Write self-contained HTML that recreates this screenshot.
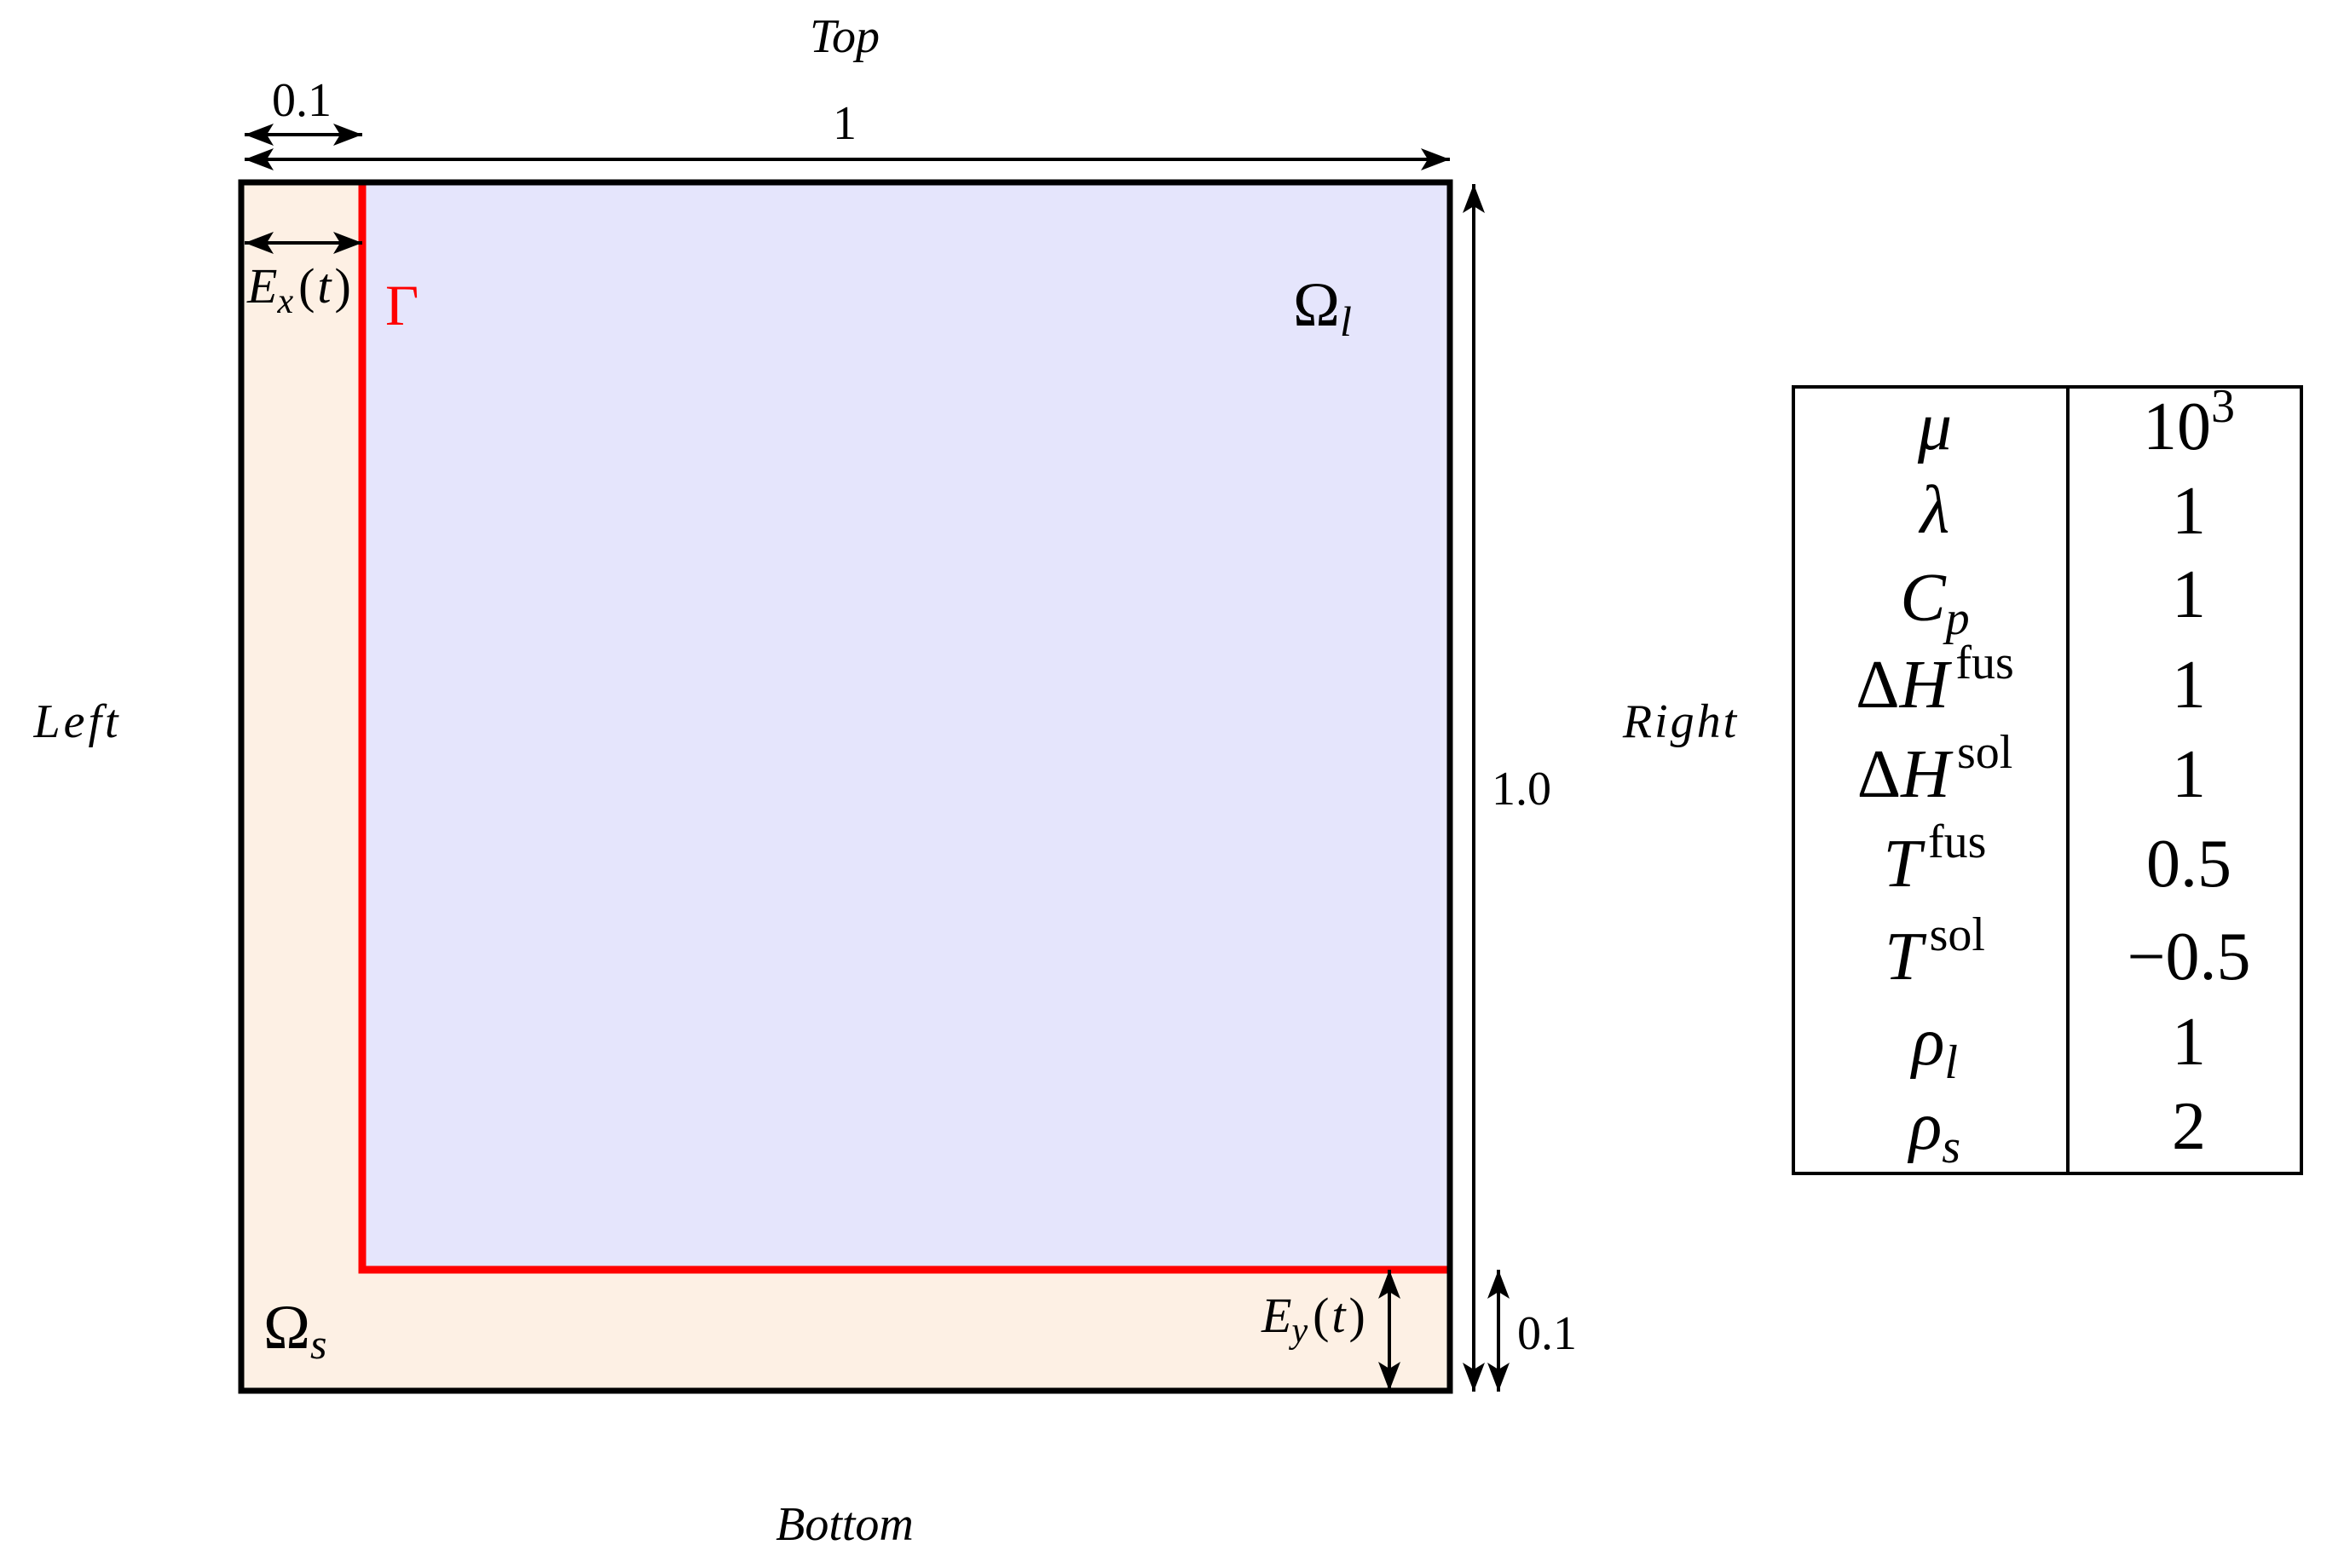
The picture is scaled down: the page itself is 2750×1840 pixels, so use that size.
<!DOCTYPE html>
<html><head><meta charset="utf-8"><style>
html,body{margin:0;padding:0;background:#fff;}
svg{display:block;}
text{font-family:"Liberation Serif",serif;fill:#000;}
.i{font-style:italic;}
</style></head><body>
<svg width="2750" height="1840" viewBox="0 0 2750 1840" xmlns="http://www.w3.org/2000/svg">
<defs>
<marker id="a" viewBox="0 0 34 26" refX="34" refY="13" markerWidth="34" markerHeight="26" markerUnits="userSpaceOnUse" orient="auto-start-reverse">
<path d="M0,0 L34,13 L0,26 L8,13 Z" fill="#000"/>
</marker>
</defs>
<rect x="283" y="214" width="1418" height="1418" fill="#fdf0e4"/>
<rect x="425" y="214" width="1276" height="1276" fill="#e5e5fc"/>
<polyline points="425,214 425,1490 1701,1490" fill="none" stroke="#ff0000" stroke-width="9"/>
<rect x="283" y="214" width="1418" height="1418" fill="none" stroke="#000" stroke-width="7"/>
<g stroke="#000" stroke-width="4" fill="none">
<line x1="287" y1="158" x2="425" y2="158" marker-start="url(#a)" marker-end="url(#a)"/>
<line x1="287" y1="187" x2="1701" y2="187" marker-start="url(#a)" marker-end="url(#a)"/>
<line x1="287" y1="285" x2="425" y2="285" marker-start="url(#a)" marker-end="url(#a)"/>
<line x1="1729" y1="216" x2="1729" y2="1633" marker-start="url(#a)" marker-end="url(#a)"/>
<line x1="1758" y1="1490" x2="1758" y2="1633" marker-start="url(#a)" marker-end="url(#a)"/>
<line x1="1630" y1="1490" x2="1630" y2="1632" marker-start="url(#a)" marker-end="url(#a)"/>
</g>
<g font-size="56">
<text x="991" y="61" text-anchor="middle" class="i">Top</text>
<text x="991" y="1807" text-anchor="middle" class="i">Bottom</text>
<text x="91" y="865" text-anchor="middle" class="i" letter-spacing="4">Left</text>
<text x="1972" y="865" text-anchor="middle" class="i" letter-spacing="3">Right</text>
<text x="354" y="136" text-anchor="middle">0.1</text>
<text x="991" y="163" text-anchor="middle">1</text>
<text x="1750" y="944">1.0</text>
<text x="1780" y="1583">0.1</text>
<text x="290" y="355" font-size="58"><tspan class="i">E</tspan><tspan class="i" font-size="42" dy="12">x</tspan><tspan dy="-12" dx="6">(</tspan><tspan class="i" dx="3">t</tspan><tspan dx="4">)</tspan></text>
<text x="1480" y="1563" font-size="58"><tspan class="i">E</tspan><tspan class="i" font-size="42" dy="12">y</tspan><tspan dy="-12" dx="6">(</tspan><tspan class="i" dx="3">t</tspan><tspan dx="4">)</tspan></text>
</g>
<text x="452" y="381" font-size="68" style="fill:#ff0000">Γ</text>
<text x="1517" y="382" font-size="74">Ω<tspan class="i" font-size="50" dy="12">l</tspan></text>
<text x="309" y="1582" font-size="74">Ω<tspan class="i" font-size="50" dy="12">s</tspan></text>
<rect x="2104" y="454" width="596" height="923" fill="none" stroke="#000" stroke-width="4"/>
<line x1="2426" y1="454" x2="2426" y2="1377" stroke="#000" stroke-width="4"/>
<g font-size="80" text-anchor="middle">
<text x="2270" y="527" class="i">μ</text>
<text x="2270" y="625" class="i">λ</text>
<text x="2270" y="728"><tspan class="i">C</tspan><tspan class="i" font-size="56" dy="16">p</tspan></text>
<text x="2270" y="830">Δ<tspan class="i">H</tspan><tspan font-size="56" dy="-34" dx="8">fus</tspan></text>
<text x="2270" y="935">Δ<tspan class="i">H</tspan><tspan font-size="56" dy="-34" dx="8">sol</tspan></text>
<text x="2270" y="1040"><tspan class="i">T</tspan><tspan font-size="56" dy="-34" dx="8">fus</tspan></text>
<text x="2270" y="1149"><tspan class="i">T</tspan><tspan font-size="56" dy="-34" dx="8">sol</tspan></text>
<text x="2270" y="1249"><tspan class="i">ρ</tspan><tspan class="i" font-size="56" dy="16">l</tspan></text>
<text x="2270" y="1348"><tspan class="i">ρ</tspan><tspan class="i" font-size="56" dy="16">s</tspan></text>
<text x="2568" y="527">10<tspan font-size="56" dy="-32">3</tspan></text>
<text x="2568" y="626">1</text>
<text x="2568" y="724">1</text>
<text x="2568" y="830">1</text>
<text x="2568" y="935">1</text>
<text x="2568" y="1040">0.5</text>
<text x="2568" y="1149">−0.5</text>
<text x="2568" y="1249">1</text>
<text x="2568" y="1348">2</text>
</g>
</svg>
</body></html>
